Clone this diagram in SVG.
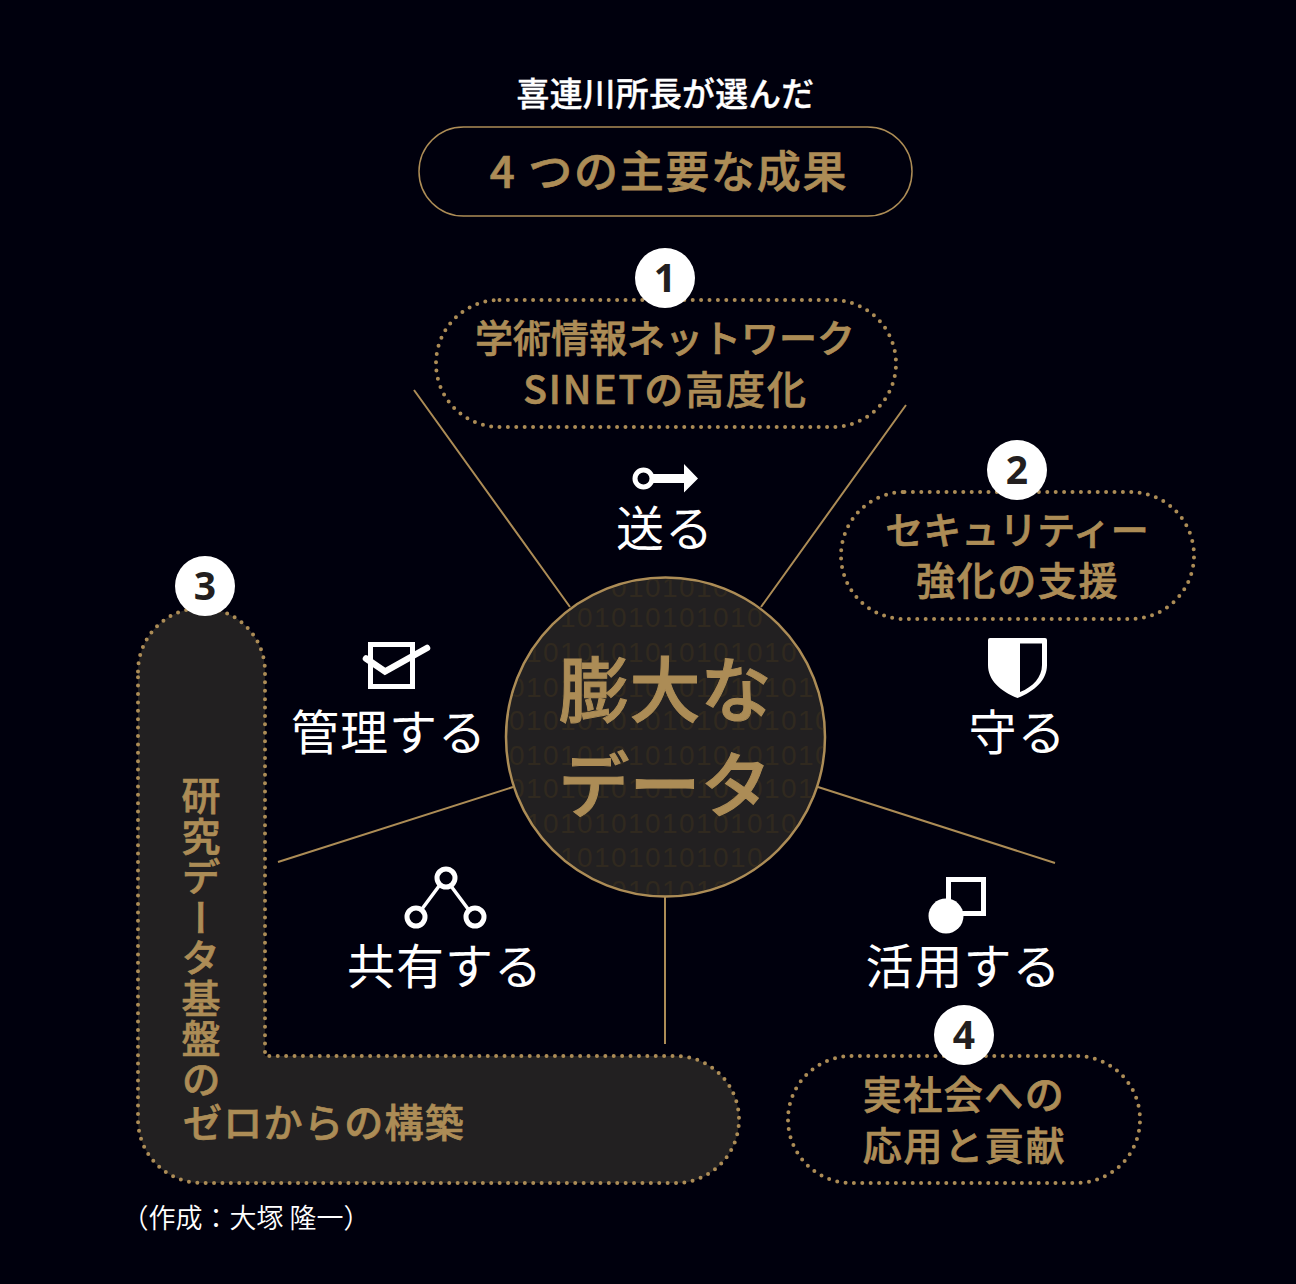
<svg xmlns="http://www.w3.org/2000/svg" width="1296" height="1284" viewBox="0 0 1296 1284">
<style>
text{font-family:"Noto Sans CJK JP","Noto Sans",sans-serif;text-anchor:middle}
.g{fill:#ac8c56;stroke:#ac8c56;stroke-width:.7px;font-weight:500;font-size:39px}
.a{fill:#fff;font-size:48px;font-weight:400;letter-spacing:1px}
.n{font-family:"Noto Sans",sans-serif;fill:#231f20;font-weight:700;font-size:39px}
.d{fill:none;stroke:#ac8c56;stroke-width:4;stroke-linecap:round;stroke-dasharray:0 8.4}
.l{fill:none;stroke:#ac8c56;stroke-width:2}
.b{font-family:"Liberation Sans",sans-serif;font-size:28px;fill:#30291f;text-anchor:start;letter-spacing:1.430px}
.w{fill:none;stroke:#fff;stroke-width:5}
</style>
<defs><clipPath id="cc"><circle cx="665.500" cy="737" r="158"/></clipPath></defs>
<rect width="1296" height="1284" fill="#00000d"/>
<g id="connectors">
<path class="l" d="M414 390L570 607M906 405L761 607M278 862L513 787M1055 863L818 787M665 896V1044"/>
</g>
<g id="title">
<text x="665.500" y="106" fill="#fff" stroke="#fff" stroke-width=".4" font-size="32.800" font-weight="500" letter-spacing=".3">喜連川所長が選んだ</text>
<rect x="419" y="127" width="493" height="89" rx="44.500" fill="none" stroke="#ac8c56" stroke-width="1.500"/>
<text x="669" y="188" class="g" style="font-size:44px" letter-spacing="1.700">4 つの主要な成果</text>
</g>
<g id="center">
<circle cx="665.500" cy="737" r="159.500" fill="#222021" stroke="#ac8c56" stroke-width="2.500"/>
<g clip-path="url(#cc)">
<text class="b" x="611" y="597">0101010</text>
<text class="b" x="560" y="627">101010101010</text>
<text class="b" x="526" y="662">1010101010101010</text>
<text class="b" x="509" y="697">0101010101010101010</text>
<text class="b" x="509" y="730">0101010101010101010</text>
<text class="b" x="509" y="765">0101010101010101010</text>
<text class="b" x="509" y="798">0101010101010101010</text>
<text class="b" x="526" y="833">1010101010101010</text>
<text class="b" x="560" y="867">101010101010</text>
<text class="b" x="611" y="900">0101010</text>
</g>
<text x="665" y="716" fill="#ac8c56" stroke="#ac8c56" stroke-width="1" font-size="71" font-weight="500">膨大な</text>
<text x="665" y="811" fill="#ac8c56" stroke="#ac8c56" stroke-width="1" font-size="71" font-weight="500">データ</text>
</g>
<g id="node1">
<rect class="d" x="436" y="300" width="460" height="127" rx="63.500"/>
<text class="g" x="665" y="352" style="font-size:38px">学術情報ネットワーク</text>
<text class="g" x="665.500" y="404" letter-spacing="1.900">SINETの高度化</text>
<circle cx="665" cy="278" r="30" fill="#fff"/>
<text class="n" x="665" y="292">1</text>
</g>
<g id="node2">
<rect class="d" x="841" y="492" width="353" height="127" rx="63.500"/>
<text class="g" x="1017" y="544" style="font-size:38px">セキュリティー</text>
<text class="g" x="1017.500" y="595" letter-spacing="1.600">強化の支援</text>
<circle cx="1017" cy="470" r="30" fill="#fff"/>
<text class="n" x="1017" y="484">2</text>
</g>
<g id="node3">
<path d="M138 671.500A63.500 63.500 0 0 1 265 671.500V1056H675.500A63.500 63.500 0 0 1 675.500 1183H201.500A63.500 63.500 0 0 1 138 1119.500Z" fill="#222021"/>
<path class="d" d="M138 671.500A63.500 63.500 0 0 1 265 671.500V1056H675.500A63.500 63.500 0 0 1 675.500 1183H201.500A63.500 63.500 0 0 1 138 1119.500Z"/>
<text class="g" x="201" y="776" style="writing-mode:vertical-rl;text-anchor:start" letter-spacing="1.500">研究データ基盤の</text>
<text class="g" x="183" y="1137" style="text-anchor:start" letter-spacing="1.300">ゼロからの構築</text>
<circle cx="205" cy="586" r="30" fill="#fff"/>
<text class="n" x="205" y="600">3</text>
</g>
<g id="node4">
<rect class="d" x="788" y="1056" width="352" height="127" rx="63.500"/>
<text class="g" x="964" y="1109" letter-spacing="1.500">実社会への</text>
<text class="g" x="964.500" y="1160" letter-spacing="1.700">応用と貢献</text>
<circle cx="964" cy="1035" r="30" fill="#fff"/>
<text class="n" x="964" y="1049">4</text>
</g>
<g id="send">
<circle class="w" cx="643.500" cy="478.500" r="8.500"/>
<path fill="#fff" d="M652 474H684V464L698 478.500L684 492.500V483H652Z"/>
<text class="a" x="665" y="546">送る</text>
</g>
<g id="protect">
<path fill="#fff" fill-rule="evenodd" d="M988 640Q988 638 990 638H1045Q1047 638 1047 640V665C1047 680 1035 691 1017.500 698C1000 691 988 680 988 665ZM1020 643.500V692C1033 687 1042 677 1042 665V643.500Z"/>
<text class="a" x="1017.500" y="750">守る</text>
</g>
<g id="manage">
<rect class="w" x="370.500" y="644.500" width="42" height="42"/>
<path fill="none" stroke="#fff" stroke-width="6.500" stroke-linecap="round" d="M366 658.500L385 671.500L427 648"/>
<text class="a" x="389" y="750">管理する</text>
</g>
<g id="share">
<path fill="none" stroke="#fff" stroke-width="3.500" d="M445 878L416 917M445 878L474 917"/>
<circle class="w" cx="446" cy="878" r="9" style="fill:#00000d"/>
<circle class="w" cx="416" cy="917" r="9" style="fill:#00000d"/>
<circle class="w" cx="475" cy="917" r="9" style="fill:#00000d"/>
<text class="a" x="445" y="984">共有する</text>
</g>
<g id="use">
<rect class="w" x="948.500" y="879.500" width="35" height="34"/>
<circle cx="946" cy="916" r="17.500" fill="#fff"/>
<text class="a" x="963.500" y="984">活用する</text>
</g>
<text id="credit" x="246" y="1228" fill="#fff" font-size="27" font-weight="350">（作成：大塚 隆一）</text>
</svg>
